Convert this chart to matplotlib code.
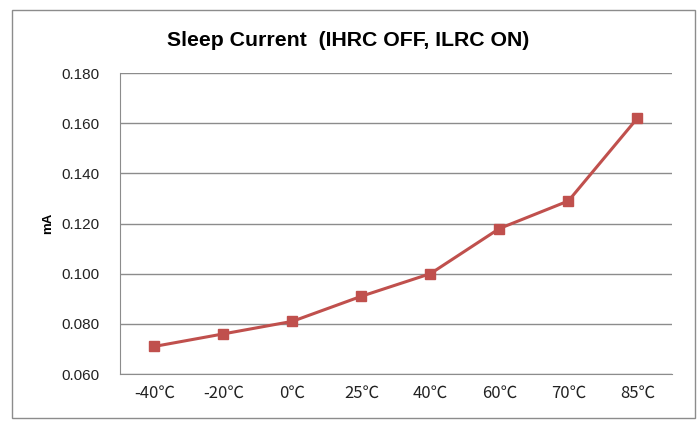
import matplotlib.pyplot as plt
from matplotlib.patches import Rectangle

temps = ["-40℃", "-20℃", "0℃", "25℃", "40℃", "60℃", "70℃", "85℃"]
current_ma = [0.071, 0.076, 0.081, 0.091, 0.100, 0.118, 0.129, 0.162]
y_ticks = [0.060, 0.080, 0.100, 0.120, 0.140, 0.160, 0.180]

fonts = ["Liberation Sans Narrow", "Liberation Sans", "Noto Sans CJK SC", "DejaVu Sans"]
plt.rcParams["font.family"] = fonts

fig = plt.figure(figsize=(6.97, 4.21), dpi=100)
ax = fig.add_axes([0.172, 0.1116, 0.792, 0.715])

x = list(range(len(temps)))
ax.plot(x, current_ma, color="#C0504D", linewidth=2.2, marker="s",
        markersize=7.5, markerfacecolor="#C0504D", markeredgecolor="#C0504D",
        zorder=3)

ax.set_xlim(-0.5, len(temps) - 0.5)
ax.set_ylim(0.060, 0.180)
ax.set_yticks(y_ticks)
ax.set_yticklabels([f"{v:.3f}" for v in y_ticks], fontsize=11)
ax.set_xticks(x)
ax.set_xticklabels(temps, fontsize=12, family=["Noto Sans CJK SC", "DejaVu Sans"])
ax.tick_params(axis="both", length=0, colors="#222222")
ax.tick_params(axis="y", pad=15)
ax.tick_params(axis="x", pad=8)

ax.grid(axis="y", color="#8c8c8c", linewidth=1.0)
ax.set_axisbelow(True)
for side in ("top", "right"):
    ax.spines[side].set_visible(False)
ax.spines["left"].set_color("#8c8c8c")
ax.spines["bottom"].set_color("#8c8c8c")

ax.set_ylabel("mA", fontsize=9.5, fontweight="bold", labelpad=5)

fig.text(0.50, 0.903, "Sleep Current  (IHRC OFF, ILRC ON)", ha="center",
         va="center", fontsize=15.3, fontweight="bold")

# outer chart border
fig.patches.append(Rectangle((12 / 697, 3 / 421), 683 / 697, 408 / 421,
                             transform=fig.transFigure, fill=False,
                             edgecolor="#8c8c8c", linewidth=1.0))

fig.savefig("out.png", dpi=100)
